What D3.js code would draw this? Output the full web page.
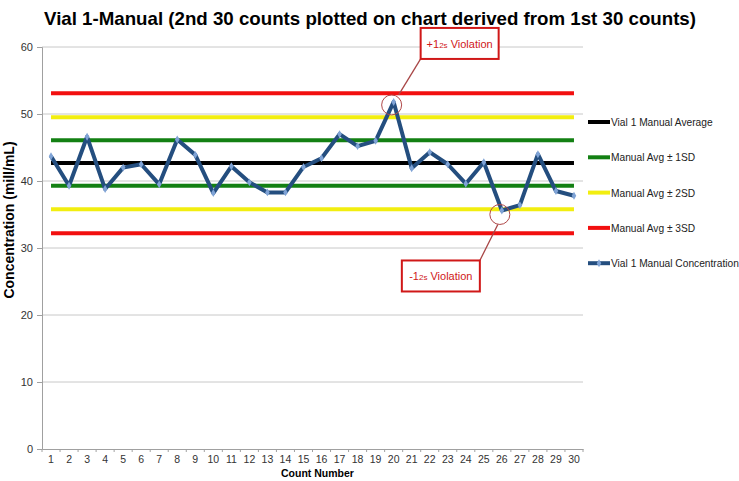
<!DOCTYPE html>
<html>
<head>
<meta charset="utf-8">
<script src="https://cdn.jsdelivr.net/npm/d3@7"></script>
<style>
  body { margin: 0; background: #fff; }
  text { font-family: 'Liberation Sans', Arial, sans-serif; }
</style>
</head>
<body>
<svg id="chart"></svg>
<script>
const counts = d3.range(1, 31);
const concentration = [
  43.7, 39.3, 46.6, 38.8, 42.0, 42.5, 39.5, 46.2, 43.9, 38.2,
  42.2, 39.8, 38.3, 38.3, 42.1, 43.4, 47.0, 45.2, 46.0, 51.8,
  41.9, 44.3, 42.5, 39.6, 42.8, 35.6, 36.4, 44.0, 38.5, 37.8,
];
const average = [42.7];
const sd1 = [39.3, 46.1];
const sd2 = [35.8, 49.5];
const sd3 = [32.2, 53.1];
const yTicks = [0, 10, 20, 30, 40, 50, 60];
const legendLabels = [
  'Vial 1 Manual Average',
  'Manual Avg \u00b1 1SD',
  'Manual Avg \u00b1 2SD',
  'Manual Avg \u00b1 3SD',
  'Vial 1 Manual Concentration',
];
const violations = [
  { count: 20, sign: '+' },
  { count: 26, sign: '-' },
];

const width = 739;
const height = 481;
const margin = { top: 47, right: 156, bottom: 32, left: 42 };
const plotWidth = width - margin.left - margin.right;
const plotHeight = height - margin.top - margin.bottom;
const gridColor = '#C8C8C8';
const axisColor = '#A0A0A0';
const colors = { avg: '#000000', sd1: '#138013', sd2: '#F2EE10', sd3: '#F20F0F', conc: '#244E7F' };

const svg = d3.select('#chart').attr('width', width).attr('height', height);

// Title
svg.append('text')
  .attr('x', 370).attr('y', 25)
  .attr('text-anchor', 'middle')
  .attr('font-size', 19).attr('font-weight', 'bold')
  .attr('textLength', 652).attr('lengthAdjust', 'spacingAndGlyphs')
  .text('Vial 1-Manual (2nd 30 counts plotted on chart derived from 1st 30 counts)');

const chart = svg.append('g').attr('transform', `translate(${margin.left},${margin.top})`);

const x = d3.scaleBand().domain(counts).range([0, plotWidth]).padding(0);
const y = d3.scaleLinear().domain([0, 60]).range([plotHeight, 0]);
const cx = (c) => x(c) + x.bandwidth() / 2;

// Gridlines
chart.append('g')
  .selectAll('line')
  .data(yTicks.filter((t) => t > 0))
  .join('line')
  .attr('x1', 0).attr('x2', plotWidth)
  .attr('y1', (d) => y(d)).attr('y2', (d) => y(d))
  .attr('stroke', gridColor).attr('stroke-width', 1);

// Y axis
const yAxis = chart.append('g').call(d3.axisLeft(y).tickValues(yTicks).tickSize(5).tickPadding(4));
yAxis.selectAll('text').attr('font-size', 11).attr('fill', '#333');

// X axis
const xAxis = chart.append('g')
  .attr('transform', `translate(0,${plotHeight})`)
  .call(d3.axisBottom(x).tickSize(0).tickPadding(7).tickSizeOuter(0));
xAxis.selectAll('text').attr('font-size', 10.5).attr('fill', '#333');
// ticks at band edges
xAxis.selectAll('.edge')
  .data(counts.concat([31]))
  .join('line')
  .attr('class', 'edge')
  .attr('x1', (d) => (d <= 30 ? x(d) : plotWidth))
  .attr('x2', (d) => (d <= 30 ? x(d) : plotWidth))
  .attr('y1', 0).attr('y2', 3)
  .attr('stroke', axisColor);

chart.selectAll('.domain').attr('stroke', axisColor);
chart.selectAll('.tick line').attr('stroke', axisColor);

// Control limit lines
const limits = [
  { values: sd3, color: colors.sd3 },
  { values: sd2, color: colors.sd2 },
  { values: sd1, color: colors.sd1 },
  { values: average, color: colors.avg },
];
limits.forEach((l) => {
  chart.append('g')
    .selectAll('line')
    .data(l.values)
    .join('line')
    .attr('x1', cx(counts[0])).attr('x2', cx(counts[counts.length - 1]))
    .attr('y1', (d) => y(d)).attr('y2', (d) => y(d))
    .attr('stroke', l.color).attr('stroke-width', 4);
});

// Concentration series
const line = d3.line().x((d, i) => cx(counts[i])).y((d) => y(d));
chart.append('path')
  .datum(concentration)
  .attr('d', line)
  .attr('fill', 'none')
  .attr('stroke', colors.conc)
  .attr('stroke-width', 4)
  .attr('stroke-linejoin', 'round');

chart.append('g')
  .selectAll('path')
  .data(concentration)
  .join('path')
  .attr('transform', (d, i) => `translate(${cx(counts[i])},${y(d)})`)
  .attr('d', d3.symbol(d3.symbolDiamond, 18))
  .attr('fill', '#7FA3D6');

// Violation annotations
violations.forEach((v) => {
  const px = cx(v.count);
  const py = y(concentration[v.count - 1]);
  const up = v.sign === '+';
  const ccy = up ? py + 3 : py + 4;
  chart.append('circle')
    .attr('cx', px - 2).attr('cy', ccy).attr('r', 10)
    .attr('fill', 'none').attr('stroke', '#B04848').attr('stroke-width', 1);

  const bx = up ? px + 27 : px - 100;
  const by = up ? ccy - 77 : ccy + 46;
  const bw = 78;
  const bh = 31;
  chart.append('line')
    .attr('x1', up ? px + 5 : px - 4).attr('y1', up ? ccy - 10 : ccy + 10)
    .attr('x2', up ? bx : bx + bw).attr('y2', up ? by + bh : by)
    .attr('stroke', '#A84646').attr('stroke-width', 1.3);
  chart.append('rect')
    .attr('x', bx).attr('y', by).attr('width', bw).attr('height', bh)
    .attr('fill', '#fff').attr('stroke', '#D01818').attr('stroke-width', 2);
  const t = chart.append('text')
    .attr('x', bx + bw / 2).attr('y', by + 20)
    .attr('text-anchor', 'middle')
    .attr('font-size', 11).attr('fill', '#D01818');
  t.append('tspan').text(`${v.sign}1`);
  t.append('tspan').attr('font-size', 8).text('2s');
  t.append('tspan').text(' Violation');
});

// Axis titles
svg.append('text')
  .attr('transform', 'translate(14,220) rotate(-90)')
  .attr('text-anchor', 'middle')
  .attr('font-size', 14).attr('font-weight', 'bold')
  .text('Concentration (mill/mL)');

svg.append('text')
  .attr('x', margin.left + plotWidth / 2 + 5).attr('y', 477)
  .attr('text-anchor', 'middle')
  .attr('font-size', 10.5).attr('font-weight', 'bold')
  .text('Count Number');

// Legend
const legendColors = [colors.avg, colors.sd1, colors.sd2, colors.sd3, colors.conc];
const legend = svg.append('g').attr('transform', 'translate(588,122)');
const item = legend.selectAll('g')
  .data(legendLabels)
  .join('g')
  .attr('transform', (d, i) => `translate(0,${i * 35.3})`);
item.append('line')
  .attr('x1', 0).attr('x2', 22).attr('y1', 0).attr('y2', 0)
  .attr('stroke', (d, i) => legendColors[i]).attr('stroke-width', 4);
item.filter((d, i) => i === 4)
  .append('path')
  .attr('transform', 'translate(11,0)')
  .attr('d', d3.symbol(d3.symbolDiamond, 18))
  .attr('fill', '#7FA3D6');
item.append('text')
  .attr('x', 23).attr('y', 4)
  .attr('font-size', 10.2).attr('fill', '#222')
  .text((d) => d);
</script>
</body>
</html>
